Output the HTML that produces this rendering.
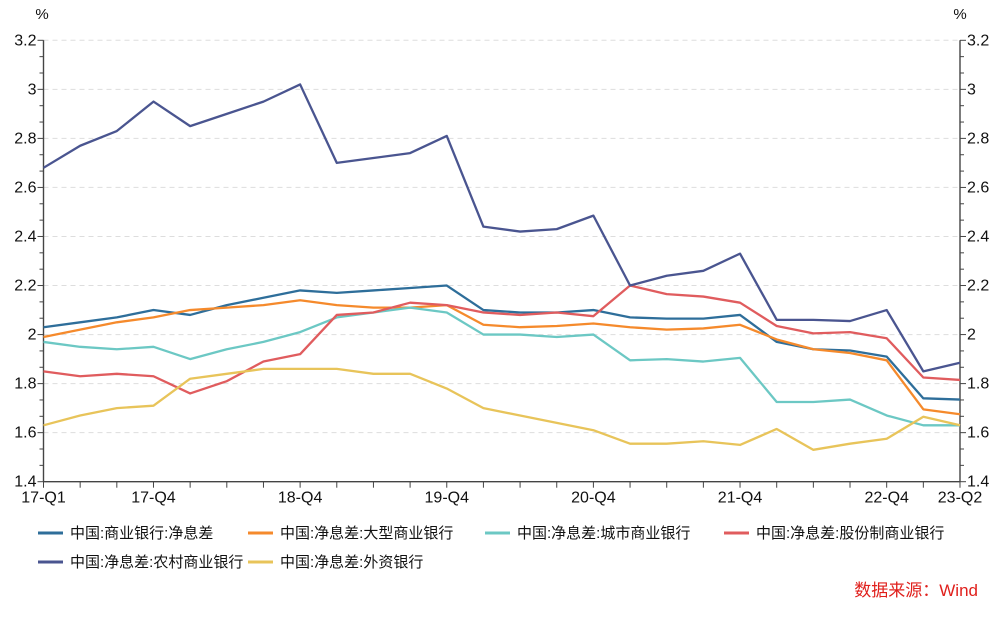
<!DOCTYPE html>
<html><head><meta charset="utf-8"><style>
body{margin:0;background:#fff;width:1000px;height:613px;overflow:hidden;font-family:"Liberation Sans","Noto Sans CJK SC",sans-serif}
</style></head><body>
<svg id="chart" width="1000" height="613" xmlns="http://www.w3.org/2000/svg" font-family="Liberation Sans, Noto Sans CJK SC, sans-serif"></svg>
<script>
const categories=["17-Q1","17-Q2","17-Q3","17-Q4","18-Q1","18-Q2","18-Q3","18-Q4","19-Q1","19-Q2","19-Q3","19-Q4","20-Q1","20-Q2","20-Q3","20-Q4","21-Q1","21-Q2","21-Q3","21-Q4","22-Q1","22-Q2","22-Q3","22-Q4","23-Q1","23-Q2"];
const xTickLabels=["17-Q1","17-Q4","18-Q4","19-Q4","20-Q4","21-Q4","22-Q4","23-Q2"];
const yTicks=[1.4,1.6,1.8,2,2.2,2.4,2.6,2.8,3,3.2];
const seriesNames=["中国:商业银行:净息差","中国:净息差:大型商业银行","中国:净息差:城市商业银行","中国:净息差:股份制商业银行","中国:净息差:农村商业银行","中国:净息差:外资银行"];
const commercial=[2.03,2.05,2.07,2.10,2.08,2.12,2.15,2.18,2.17,2.18,2.19,2.20,2.10,2.09,2.09,2.10,2.07,2.065,2.065,2.08,1.97,1.94,1.935,1.91,1.74,1.735];
const large=[1.99,2.02,2.05,2.07,2.10,2.11,2.12,2.14,2.12,2.11,2.11,2.12,2.04,2.03,2.035,2.045,2.03,2.02,2.025,2.04,1.98,1.94,1.925,1.895,1.695,1.675];
const city=[1.97,1.95,1.94,1.95,1.90,1.94,1.97,2.01,2.07,2.09,2.11,2.09,2.00,2.00,1.99,2.00,1.895,1.90,1.89,1.905,1.725,1.725,1.735,1.67,1.63,1.63];
const jointStock=[1.85,1.83,1.84,1.83,1.76,1.81,1.89,1.92,2.08,2.09,2.13,2.12,2.09,2.08,2.09,2.075,2.20,2.165,2.155,2.13,2.035,2.005,2.01,1.985,1.825,1.815];
const rural=[2.68,2.77,2.83,2.95,2.85,2.90,2.95,3.02,2.70,2.72,2.74,2.81,2.44,2.42,2.43,2.485,2.20,2.24,2.26,2.33,2.06,2.06,2.055,2.10,1.85,1.885];
const foreign=[1.63,1.67,1.70,1.71,1.82,1.84,1.86,1.86,1.86,1.84,1.84,1.78,1.70,1.67,1.64,1.61,1.555,1.555,1.565,1.55,1.615,1.53,1.555,1.575,1.665,1.63];
const seriesData=[commercial,large,city,jointStock,rural,foreign];
const colors=["#2e6e9a","#f58a2c","#6cc8c4","#e05c5e","#4a5590","#e8c45a"];
const svg=document.getElementById('chart');
const NS="http://www.w3.org/2000/svg";
const L=43.5,R=960,T=40.3,B=481.7,yMin=1.4,yMax=3.2;
const x=i=>L+i*(R-L)/(categories.length-1);
const y=v=>B-(v-yMin)/(yMax-yMin)*(B-T);
function mk(tag,at,parent){const e=document.createElementNS(NS,tag);for(const k in at)e.setAttribute(k,at[k]);(parent||svg).appendChild(e);return e;}
yTicks.forEach(v=>{if(v>yMin){const g=mk('line',{x1:L,x2:R,y1:y(v),y2:y(v),stroke:'#ddd','stroke-dasharray':'5,4'});

}});
const la=mk('line',{x1:L,x2:L,y1:T,y2:B,stroke:'#444','stroke-width':1.4});


const ra=mk('line',{x1:R,x2:R,y1:T,y2:B,stroke:'#444','stroke-width':1.4});


const xa=mk('line',{x1:L,x2:R,y1:B,y2:B,stroke:'#444','stroke-width':1.4});


for(let k=0;k<(yTicks.length-1)*3+1;k++){const v=yMin+k*0.2/3;const major=k%3===0;const len=major?6:4;
mk('line',{x1:L-len,x2:L,y1:y(v),y2:y(v),stroke:'#444'});mk('line',{x1:R,x2:R+len,y1:y(v),y2:y(v),stroke:'#444'});}
yTicks.forEach(v=>{
const t1=mk('text',{x:L-7,y:y(v)+5,'text-anchor':'end','font-size':16,fill:'#111'});t1.textContent=String(v);


const t2=mk('text',{x:R+7,y:y(v)+5,'text-anchor':'start','font-size':16,fill:'#111'});t2.textContent=String(v);

});
const u1=mk('text',{x:42,y:19,'text-anchor':'middle','font-size':15,fill:'#111'});u1.textContent='%';


const u2=mk('text',{x:960,y:19,'text-anchor':'middle','font-size':15,fill:'#111'});u2.textContent='%';


categories.forEach((c,i)=>{mk('line',{x1:x(i),x2:x(i),y1:B,y2:B+6,stroke:'#444'});
if(xTickLabels.includes(c)){const t=mk('text',{x:x(i),y:B+21,'text-anchor':'middle','font-size':16,fill:'#111'});t.textContent=c;

}});
seriesData.forEach((d,s)=>{const p=mk('polyline',{points:d.map((v,i)=>x(i)+','+y(v)).join(' '),fill:'none',stroke:colors[s],'stroke-width':2.3,'stroke-linejoin':'round'});

});
const lx=[38,248,485,724,38,248],ly=[533,533,533,533,562,562];
seriesNames.forEach((n,s)=>{const g=mk('g',{});


mk('line',{x1:lx[s],x2:lx[s]+25,y1:ly[s],y2:ly[s],stroke:colors[s],'stroke-width':3},g);
const t=mk('text',{x:lx[s]+32,y:ly[s]+5,'font-size':15,fill:'#111'},g);t.textContent=n;});
const src=mk('text',{x:978,y:596,'text-anchor':'end','font-size':17,fill:'#e0201c'});src.textContent='数据来源：Wind';


</script>
</body></html>
